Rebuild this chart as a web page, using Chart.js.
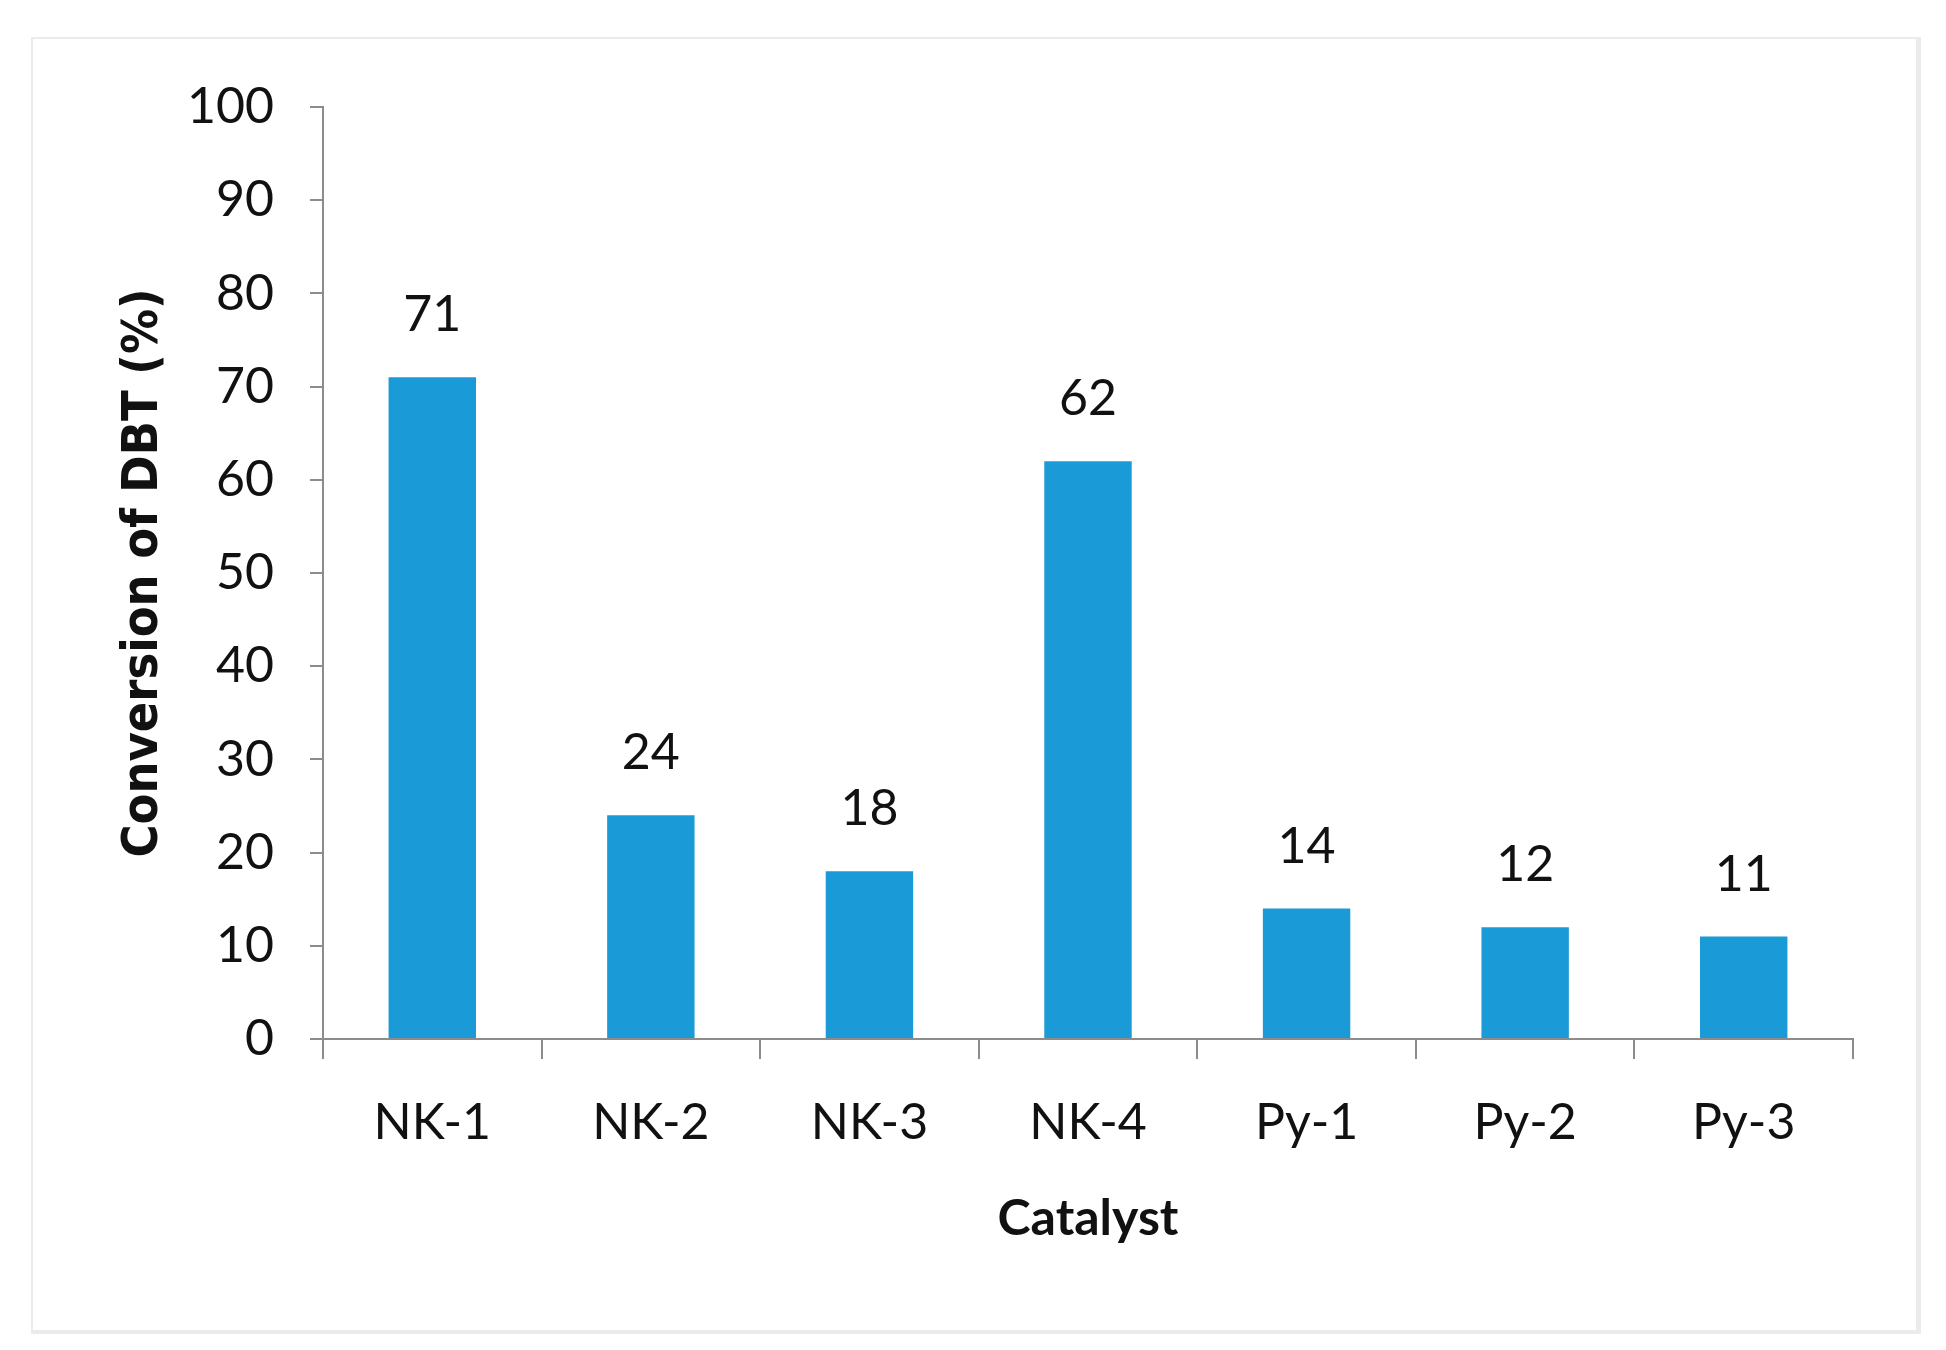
<!DOCTYPE html>
<html>
<head>
<meta charset="utf-8">
<script src="https://cdn.jsdelivr.net/npm/chart.js@4/dist/chart.umd.min.js"></script>
<style>
    html, body { margin: 0; padding: 0; background: #ffffff; }
    #frame {
        position: absolute;
        left: 31px;
        top: 37px;
        width: 1883px;
        height: 1291px;
        border: 2px solid #ebebeb;
        border-right-width: 5px;
        border-bottom-width: 4px;
    }
    #chart { position: absolute; left: 0; top: 0; }
</style>
</head>
<body>
<div id="frame"></div>
<canvas id="chart" width="1946" height="1350"></canvas>
<script>
    const categories = ["NK-1", "NK-2", "NK-3", "NK-4", "Py-1", "Py-2", "Py-3"];
    const conversion = [71, 24, 18, 62, 14, 12, 11];
    const yMin = 0;
    const yMax = 100;
    const yStep = 10;

    const AXIS_COLOR = "#8c8c8c";
    const TEXT_COLOR = "#111111";
    const BAR_COLOR = "#1a9bd7";

    Chart.defaults.font.family = "Lato, 'Open Sans', sans-serif";
    Chart.defaults.color = TEXT_COLOR;

    // value labels over each bar, placed from the bar elements
    const barValueLabels = {
        id: "barValueLabels",
        afterDatasetsDraw(chart) {
            const ctx = chart.ctx;
            const meta = chart.getDatasetMeta(0);
            ctx.save();
            ctx.font = "50px Lato, 'Open Sans', sans-serif";
            ctx.fillStyle = TEXT_COLOR;
            ctx.textAlign = "center";
            ctx.textBaseline = "middle";
            meta.data.forEach((bar, i) => {
                ctx.fillText(String(conversion[i]), bar.x, bar.y - 62);
            });
            ctx.restore();
        },
    };

    new Chart(document.getElementById("chart"), {
        type: "bar",
        data: {
            labels: categories,
            datasets: [{
                data: conversion,
                backgroundColor: BAR_COLOR,
                borderWidth: 0,
                categoryPercentage: 1,
                barPercentage: 0.4,
            }],
        },
        options: {
            responsive: false,
            animation: false,
            events: [],
            layout: { padding: { top: 107, right: 93, left: 0, bottom: 0 } },
            plugins: {
                legend: { display: false },
                tooltip: { enabled: false },
            },
            scales: {
                x: {
                    offset: true,
                    afterFit: (scale) => { scale.height = 311; },
                    grid: {
                        offset: true,
                        drawOnChartArea: false,
                        drawTicks: true,
                        tickLength: 20,
                        color: AXIS_COLOR,
                        lineWidth: 2,
                    },
                    border: { display: true, color: AXIS_COLOR, width: 2 },
                    ticks: {
                        font: { size: 50 },
                        color: TEXT_COLOR,
                        padding: 34,
                        maxRotation: 0,
                    },
                    title: {
                        display: true,
                        text: "Catalyst",
                        color: TEXT_COLOR,
                        font: { size: 50, weight: "bold", lineHeight: 1 },
                        padding: { top: 0, bottom: 106 },
                    },
                },
                y: {
                    min: yMin,
                    max: yMax,
                    afterFit: (scale) => { scale.width = 323; },
                    grid: {
                        drawOnChartArea: false,
                        drawTicks: true,
                        tickLength: 13,
                        color: AXIS_COLOR,
                        lineWidth: 2,
                    },
                    border: { display: true, color: AXIS_COLOR, width: 2 },
                    ticks: {
                        stepSize: yStep,
                        font: { size: 50 },
                        color: TEXT_COLOR,
                        padding: 36,
                    },
                    title: {
                        display: true,
                        text: "Conversion of DBT (%)",
                        color: TEXT_COLOR,
                        font: { family: "'DejaVu Sans Condensed', 'DejaVu Sans', sans-serif", size: 50, weight: "bold", lineHeight: 1 },
                        padding: { top: 119, bottom: 0 },
                    },
                },
            },
        },
        plugins: [barValueLabels],
    });
</script>
</body>
</html>
